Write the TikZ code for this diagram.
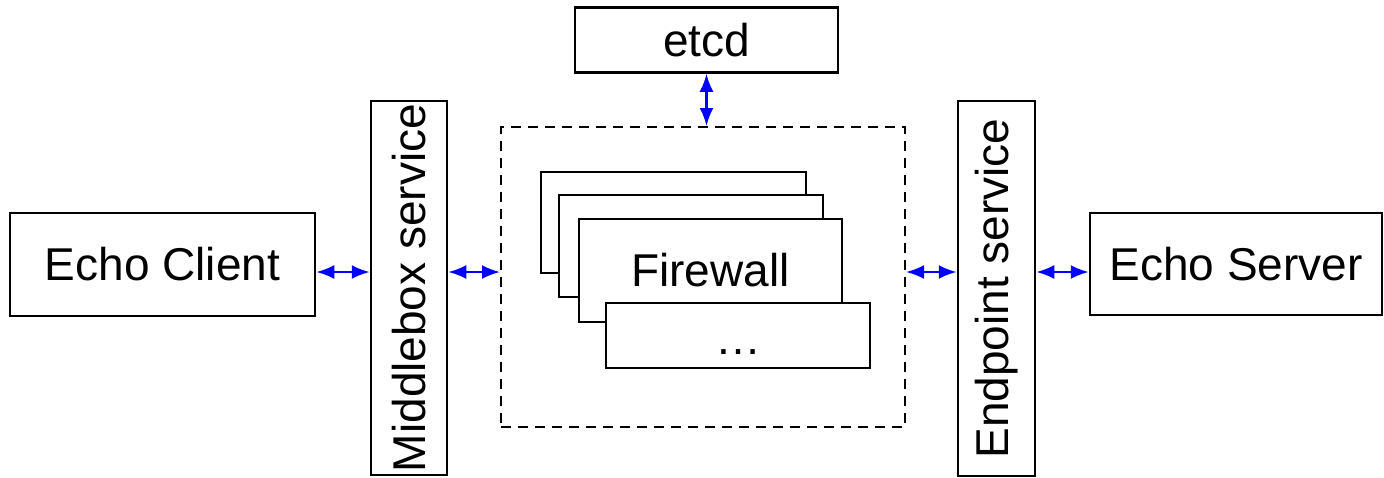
\documentclass[tikz,border=0pt]{standalone}
\usepackage{fontspec}
\setmainfont{Liberation Sans}
\usetikzlibrary{arrows.meta,positioning}
\tikzset{
  blk/.style={draw=black, line width=1.25pt, fill=white, inner sep=0pt, align=center, font=\fontsize{23}{27}\selectfont},
  vblk/.style={blk, rotate=90},
  darr/.style={{Latex[length=9pt,width=7pt]}-{Latex[length=9pt,width=7pt]}, line width=1.2pt, draw=blue}
}
\begin{document}
\begin{tikzpicture}[x=0.5pt, y=-0.5pt]
\useasboundingbox (0,0) rectangle (1384,477);
\node[blk, minimum width=152.5pt, minimum height=51.5pt] (client) at (162.5,264.5) {Echo Client};
\node[vblk, minimum width=187pt, minimum height=38pt] (mbox) at (409,288) {Middlebox service};
\node[draw=black, line width=1pt, dash pattern=on 5pt off 3.5pt, minimum width=202pt, minimum height=150pt, inner sep=0pt] (fwarea) at (703,277) {};
\node[blk, minimum width=131.5pt, minimum height=32.5pt] (etcd) at (706.5,40) {etcd};
% stacked firewall instances
\node[blk, minimum width=132.5pt, minimum height=50.5pt] (fw1) at (673.5,222.5) {};
\node[blk, minimum width=132pt, minimum height=51pt] (fw2) at (691,246) {};
\node[blk, minimum width=131.5pt, minimum height=51.5pt] (fw3) at (710.5,270.5) {Firewall};
\node[blk, minimum width=132pt, minimum height=32.5pt, text height=0pt, text depth=0pt] (fw4) at (738,335.5) {\raisebox{-9.5pt}{…}};
\node[vblk, minimum width=187.5pt, minimum height=38.5pt] (ebox) at (996.5,288.5) {Endpoint service};
\node[blk, minimum width=146pt, minimum height=51pt] (server) at (1236,264) {Echo Server};
\coordinate (lvl) at (0,272);
\draw[darr] (client.east |- lvl) -- (mbox.north |- lvl);
\draw[darr] (mbox.south |- lvl) -- (fwarea.west |- lvl);
\draw[darr] (fwarea.east |- lvl) -- (ebox.north |- lvl);
\draw[darr] (ebox.south |- lvl) -- (server.west |- lvl);
\draw[darr] (etcd.south) -- (etcd.south |- fwarea.north);
\end{tikzpicture}
\end{document}
